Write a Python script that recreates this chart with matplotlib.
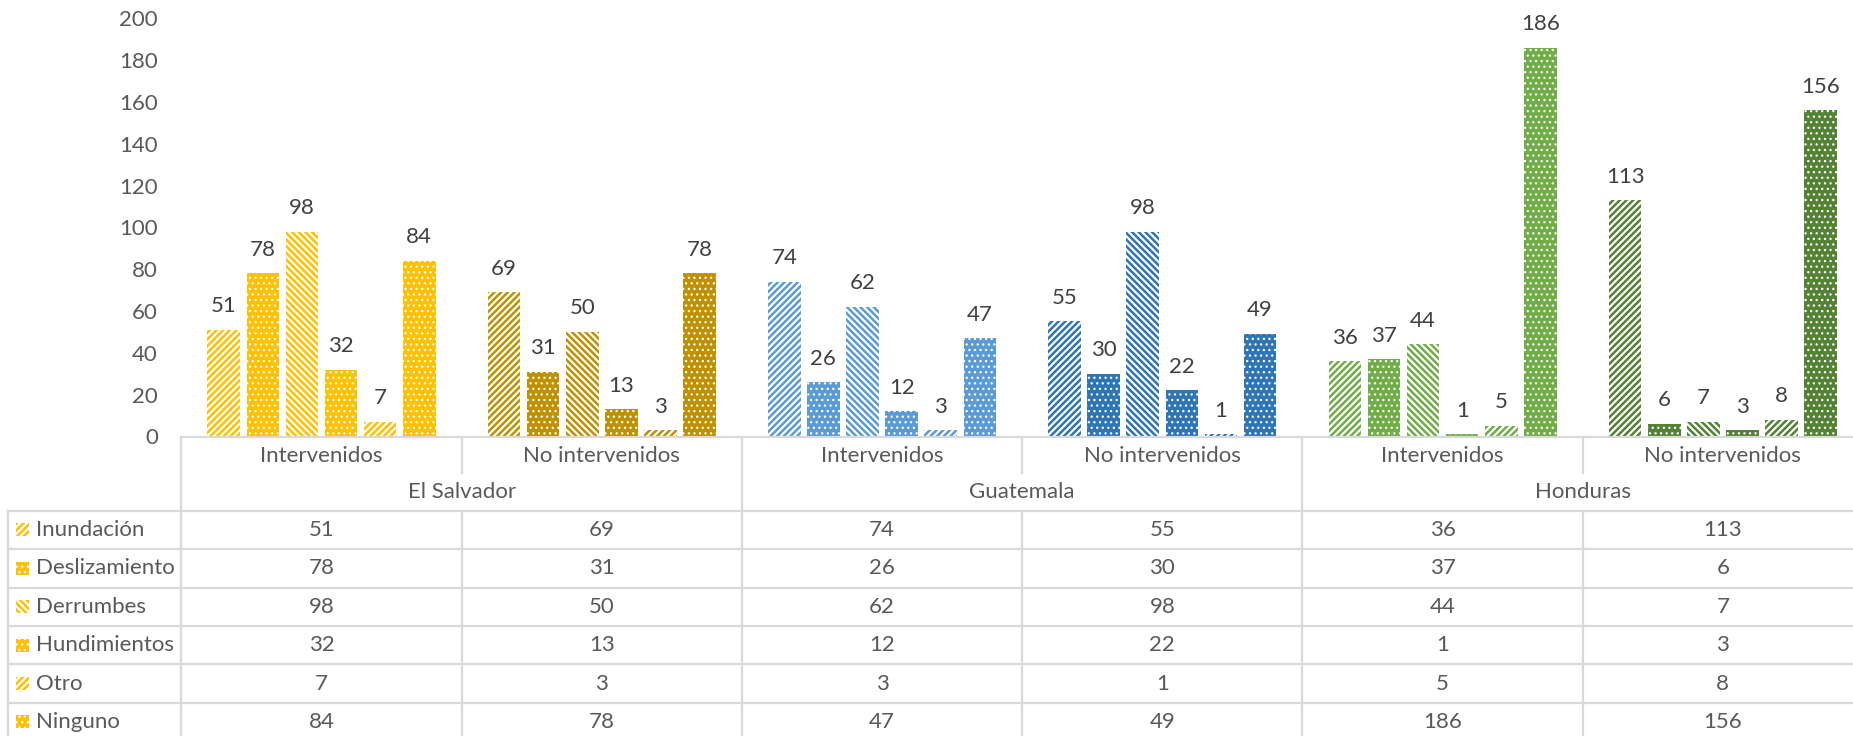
import numpy as np
import matplotlib.pyplot as plt
from matplotlib.transforms import blended_transform_factory
from matplotlib.patches import Rectangle

plt.rcParams['font.family'] = ['Lato', 'DejaVu Sans']
plt.rcParams['hatch.linewidth'] = 1.5

# datos
countries = ['El Salvador', 'Guatemala', 'Honduras']
groups = ['Intervenidos', 'No intervenidos'] * 3
series = ['Inundación', 'Deslizamiento', 'Derrumbes', 'Hundimientos', 'Otro', 'Ninguno']
inundacion = [51, 69, 74, 55, 36, 113]
deslizamiento = [78, 31, 26, 30, 37, 6]
derrumbes = [98, 50, 62, 98, 44, 7]
hundimientos = [32, 13, 12, 22, 1, 3]
otro = [7, 3, 3, 1, 5, 8]
ninguno = [84, 78, 47, 49, 186, 156]
values = [inundacion, deslizamiento, derrumbes, hundimientos, otro, ninguno]

bar_colors = ['#FFC000', '#BF9000', '#5B9BD5', '#2E75B6', '#70AD47', '#548235']
hatches = ['/////', '...', '\\\\\\\\\\', '...', '/////', '...']
striped = [True, False, True, False, True, False]

W_PX, H_PX = 1853, 736
LINE = '#D9D9D9'
TXT = '#595959'
FS = 16


def hatch_lw(patch, lw):
    # grosor de trama por barra si la versión lo permite
    if hasattr(patch, 'set_hatch_linewidth'):
        patch.set_hatch_linewidth(lw)


fig = plt.figure(figsize=(W_PX / 100, H_PX / 100), dpi=100)
left_px, right_px = 181.4, 1863
y0_px, ytop_px = 436.5, 18.3
ax = fig.add_axes([left_px / W_PX, 1 - y0_px / H_PX,
                   (right_px - left_px) / W_PX, (y0_px - ytop_px) / H_PX])

x = np.arange(len(groups))
bw, step = 0.1163, 0.1395
for i, (name, vals) in enumerate(zip(series, values)):
    xs = x + (i - 2.5) * step
    if striped[i]:
        bars = ax.bar(xs, vals, bw, color='white', edgecolor=bar_colors,
                      hatch=hatches[i], linewidth=0)
        for b in bars:
            hatch_lw(b, 1.8)
    else:
        bars = ax.bar(xs, vals, bw, color=bar_colors, edgecolor='white',
                      hatch=hatches[i], linewidth=0)
        for b in bars:
            hatch_lw(b, 0.9)
    for xx, v in zip(xs, vals):
        ax.annotate(str(v), (xx, v), xytext=(0, 17), textcoords='offset points',
                    ha='center', va='center', fontsize=FS, color='#404040')

ax.set_xlim(-0.5, 5.5)
ax.set_ylim(0, 200)
ax.set_yticks(range(0, 201, 20))
ax.set_xticks([])
ax.tick_params(axis='y', length=0, pad=17, labelsize=FS, labelcolor=TXT)
for sp in ax.spines.values():
    sp.set_visible(False)

# tabla de datos
def fy(px):
    return 1 - px / H_PX

tr = blended_transform_factory(ax.transData, fig.transFigure)
ff = fig.transFigure
row_top = 510.7
row_h = 38.4
x_right = 5.5

def hline(xa, xb, ypx, trans=tr):
    fig.add_artist(plt.Line2D([xa, xb], [fy(ypx), fy(ypx)], transform=trans,
                              color=LINE, lw=1.6, clip_on=False))

def vline(xd, ya, yb, trans=tr):
    fig.add_artist(plt.Line2D([xd, xd], [fy(ya), fy(yb)], transform=trans,
                              color=LINE, lw=1.6, clip_on=False))

hline(-0.5, x_right, y0_px)
vline(-0.5, y0_px, H_PX + 5)
for c in [1.5, 3.5]:
    vline(c, y0_px, H_PX + 5)
for c in [0.5, 2.5, 4.5]:
    vline(c, y0_px, 473)
    vline(c, row_top, H_PX + 5)
for r in range(len(series) + 1):
    yy = row_top + r * row_h
    hline(8 / W_PX, 1.01, yy, trans=ff)
vline(8 / W_PX, row_top, H_PX + 5, trans=ff)

for j, g in enumerate(groups):
    fig.text(j, fy(456), g, transform=tr, ha='center', va='center',
             fontsize=FS, color=TXT)
for k, c in enumerate(countries):
    fig.text(2 * k + 0.5, fy(492), c, transform=tr, ha='center', va='center',
             fontsize=FS, color=TXT)

for r, (name, vals) in enumerate(zip(series, values)):
    yc = row_top + (r + 0.5) * row_h
    key = Rectangle((16 / W_PX, fy(yc + 6.5)), 13 / W_PX, 13 / H_PX,
                    transform=ff, facecolor='white' if striped[r] else bar_colors[0],
                    edgecolor='#FFC000' if striped[r] else 'white',
                    hatch=hatches[r], linewidth=0)
    hatch_lw(key, 1.8 if striped[r] else 0.9)
    fig.add_artist(key)
    fig.text(36 / W_PX, fy(yc), name, ha='left', va='center',
             fontsize=FS, color=TXT)
    for j, v in enumerate(vals):
        fig.text(j, fy(yc), str(v), transform=tr, ha='center', va='center',
                 fontsize=FS, color=TXT)

fig.savefig('out.png', dpi=100)
